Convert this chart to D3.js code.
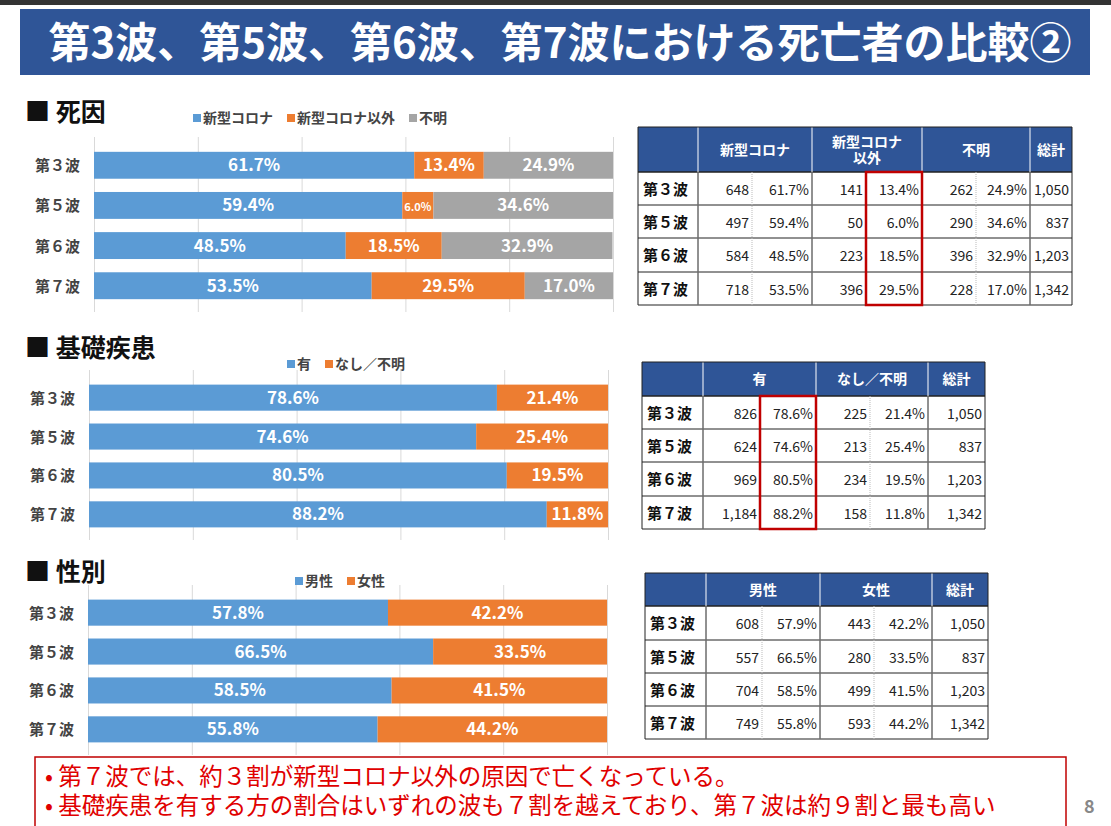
<!DOCTYPE html>
<html><head><meta charset="utf-8">
<script src="https://cdn.jsdelivr.net/npm/d3@7"></script>
<style>body{margin:0;background:#fff}svg{display:block;font-family:"Noto Sans CJK JP",sans-serif}</style>
</head><body>
<script>
const waves = ["第３波", "第５波", "第６波", "第７波"];
const totals = [1050, 837, 1203, 1342];

const causeKeys = ["新型コロナ", "新型コロナ以外", "不明"];
const causeCount = [[648, 141, 262], [497, 50, 290], [584, 223, 396], [718, 396, 228]];
const causePct = [[61.7, 13.4, 24.9], [59.4, 6.0, 34.6], [48.5, 18.5, 32.9], [53.5, 29.5, 17.0]];

const illKeys = ["有", "なし／不明"];
const illCount = [[826, 225], [624, 213], [969, 234], [1184, 158]];
const illPct = [[78.6, 21.4], [74.6, 25.4], [80.5, 19.5], [88.2, 11.8]];

const sexKeys = ["男性", "女性"];
const sexCount = [[608, 443], [557, 280], [704, 499], [749, 593]];
const sexPct = [[57.8, 42.2], [66.5, 33.5], [58.5, 41.5], [55.8, 44.2]];
const sexTablePct = [[57.9, 42.2], [66.5, 33.5], [58.5, 41.5], [55.8, 44.2]];

const notes = ["第７波では、約３割が新型コロナ以外の原因で亡くなっている。",
  "基礎疾患を有する方の割合はいずれの波も７割を越えており、第７波は約９割と最も高い"];

const colors = ["#5b9bd5", "#ed7d31", "#a5a5a5"];
const navy = "#2f5597";

let svg = d3.select("body").append("svg").attr("width", 1111).attr("height", 826);

// ヘッダー
svg.append("rect").attr("x", 0).attr("y", 0).attr("width", 1111).attr("height", 5).attr("fill", "#333");
svg.append("rect").attr("x", 20).attr("y", 9).attr("width", 1070).attr("height", 66).attr("fill", navy);
svg.append("text").attr("x", 560).attr("y", 58).attr("text-anchor", "middle")
  .attr("fill", "#fff").attr("font-size", 42).attr("font-weight", "bold")
  .text("第3波、第5波、第6波、第7波における死亡者の比較②");

// 横積み上げ棒
function stackChart(o) {
  let x = d3.scaleLinear().domain([0, 100]).range([o.x0, o.x1]);
  let y = d3.scaleBand().domain(waves).range([o.y0, o.y1]).paddingInner(0.33).paddingOuter(0.17);
  let g = svg.append("g");
  g.append("text").attr("x", 25).attr("y", o.titleY).attr("font-size", 25).attr("font-weight", "bold")
    .attr("fill", "#111").text("■ " + o.title);
  // 凡例
  let lx = o.legendX;
  o.keys.forEach((k, i) => {
    g.append("rect").attr("x", lx).attr("y", o.legendY - 9).attr("width", 8).attr("height", 8).attr("fill", colors[i]);
    let t = g.append("text").attr("x", lx + 10).attr("y", o.legendY).attr("font-size", 14)
      .attr("font-weight", "bold").attr("fill", "#444").text(k);
    lx += t.node().getComputedTextLength() + 24;
  });
  g.append("g").attr("transform", `translate(0,${o.y0 - 8})`)
    .call(d3.axisBottom(x).ticks(5).tickSize(o.y1 - o.y0 + 14).tickFormat(""))
    .call(a => { a.select(".domain").remove(); a.selectAll("line").attr("stroke", "#d9d9d9"); });
  o.pct.forEach((row, r) => {
    let acc = 0;
    row.forEach((v, i) => {
      let xa = x(acc), xb = x(Math.min(acc + v, 100));
      g.append("rect").attr("x", xa).attr("y", y(waves[r])).attr("width", xb - xa)
        .attr("height", y.bandwidth()).attr("fill", colors[i]);
      g.append("text").attr("x", (xa + xb) / 2).attr("y", y(waves[r]) + y.bandwidth() / 2 + 6)
        .attr("text-anchor", "middle").attr("fill", "#fff").attr("font-weight", "bold")
        .attr("font-size", v < 8 ? 11 : 17).text(v.toFixed(1) + "%");
      acc += v;
    });
    g.append("text").attr("x", o.x0 - 14).attr("y", y(waves[r]) + y.bandwidth() / 2 + 6)
      .attr("text-anchor", "end").attr("font-size", 15).attr("font-weight", "bold").attr("fill", "#444")
      .text(waves[r]);
  });
}

stackChart({ title: "死因", titleY: 121, legendX: 193, legendY: 123, keys: causeKeys, pct: causePct,
  x0: 94, x1: 613, y0: 145, y1: 306 });
stackChart({ title: "基礎疾患", titleY: 357, legendX: 287, legendY: 369, keys: illKeys, pct: illPct,
  x0: 89, x1: 608, y0: 378, y1: 534 });
stackChart({ title: "性別", titleY: 581, legendX: 295, legendY: 586, keys: sexKeys, pct: sexPct,
  x0: 88, x1: 607, y0: 593, y1: 749 });

// 表
const fmt = d3.format(",");
function table(o) {
  let g = svg.append("g");
  let cx = o.cols, ys = o.rows;
  g.append("rect").attr("x", cx[0]).attr("y", ys[0]).attr("width", cx[cx.length - 1] - cx[0])
    .attr("height", ys[1] - ys[0]).attr("fill", navy);
  // 見出し
  o.keys.forEach((k, i) => {
    let a = cx[1 + 2 * i], b = cx[3 + 2 * i];
    let lines = o.headLines && o.headLines[i] ? o.headLines[i] : [k];
    lines.forEach((l, j) => {
      g.append("text").attr("x", (a + b) / 2).attr("y", (ys[0] + ys[1]) / 2 + 5 + (j - (lines.length - 1) / 2) * 16)
        .attr("text-anchor", "middle").attr("fill", "#fff").attr("font-weight", "bold").attr("font-size", 14).text(l);
    });
  });
  let last = cx[cx.length - 1], prev = cx[cx.length - 2];
  g.append("text").attr("x", (last + prev) / 2).attr("y", (ys[0] + ys[1]) / 2 + 5).attr("text-anchor", "middle")
    .attr("fill", "#fff").attr("font-weight", "bold").attr("font-size", 14).text("総計");
  // 罫線
  ys.slice(1).forEach((yy, i) => g.append("line").attr("x1", cx[0]).attr("x2", last).attr("y1", yy).attr("y2", yy)
    .attr("stroke", "#222").attr("stroke-width", i === 0 ? 1.5 : 1));
  cx.forEach((xx, i) => {
    let minor = i > 0 && i < cx.length - 1 && i % 2 === 0;
    g.append("line").attr("x1", xx).attr("x2", xx).attr("y1", minor ? ys[1] : ys[0]).attr("y2", ys[ys.length - 1])
      .attr("stroke", minor ? "#bbb" : (i === 0 || i === cx.length - 1 ? "#222" : "#fff"))
      .attr("stroke-dasharray", minor ? "1,1" : null);
    if (!minor && i > 0 && i < cx.length - 1)
      g.append("line").attr("x1", xx).attr("x2", xx).attr("y1", ys[1]).attr("y2", ys[ys.length - 1]).attr("stroke", "#222");
  });
  g.append("line").attr("x1", cx[0]).attr("x2", last).attr("y1", ys[0]).attr("y2", ys[0]).attr("stroke", "#222");
  waves.forEach((w, r) => {
    let ty = (ys[r + 1] + ys[r + 2]) / 2 + 6;
    g.append("text").attr("x", cx[0] + 5).attr("y", ty).attr("font-weight", "bold").attr("font-size", 15)
      .attr("fill", "#111").text(w);
    o.keys.forEach((k, i) => {
      g.append("text").attr("x", cx[2 + 2 * i] - 3).attr("y", ty).attr("text-anchor", "end").attr("font-size", 14)
        .attr("fill", "#222").text(fmt(o.count[r][i]));
      g.append("text").attr("x", cx[3 + 2 * i] - 3).attr("y", ty).attr("text-anchor", "end").attr("font-size", 14)
        .attr("fill", "#222").text(o.pct[r][i].toFixed(1) + "%");
    });
    g.append("text").attr("x", last - 3).attr("y", ty).attr("text-anchor", "end").attr("font-size", 14)
      .attr("fill", "#222").text(fmt(totals[r]));
  });
  if (o.redCol != null) {
    g.append("rect").attr("x", cx[o.redCol]).attr("y", ys[1]).attr("width", cx[o.redCol + 1] - cx[o.redCol])
      .attr("height", ys[ys.length - 1] - ys[1]).attr("fill", "none").attr("stroke", "#c00000").attr("stroke-width", 2.5);
  }
}

table({ keys: causeKeys, count: causeCount, pct: causePct, headLines: [null, ["新型コロナ", "以外"]],
  cols: [638, 698, 752, 812, 866, 922, 976, 1030, 1072], rows: [127, 172, 205, 238, 272, 305], redCol: 4 });
table({ keys: illKeys, count: illCount, pct: illPct,
  cols: [642, 703, 760, 816, 870, 928, 985], rows: [362, 396, 429, 462, 496, 529], redCol: 2 });
table({ keys: sexKeys, count: sexCount, pct: sexTablePct,
  cols: [645, 706, 762, 820, 874, 932, 988], rows: [573, 606, 640, 673, 706, 739] });

// 注記
svg.append("rect").attr("x", 35).attr("y", 757).attr("width", 1031).attr("height", 75)
  .attr("fill", "#fff").attr("stroke", "#c00000").attr("stroke-width", 1.5);
notes.forEach((n, i) => {
  svg.append("text").attr("x", 45).attr("y", 785 + i * 29).attr("fill", "#e00000").attr("font-size", 23.5).text("• " + n);
});
svg.append("text").attr("x", 1084).attr("y", 813).attr("font-size", 18).attr("font-weight", "bold").attr("fill", "#888").text("8");
</script>
</body></html>
